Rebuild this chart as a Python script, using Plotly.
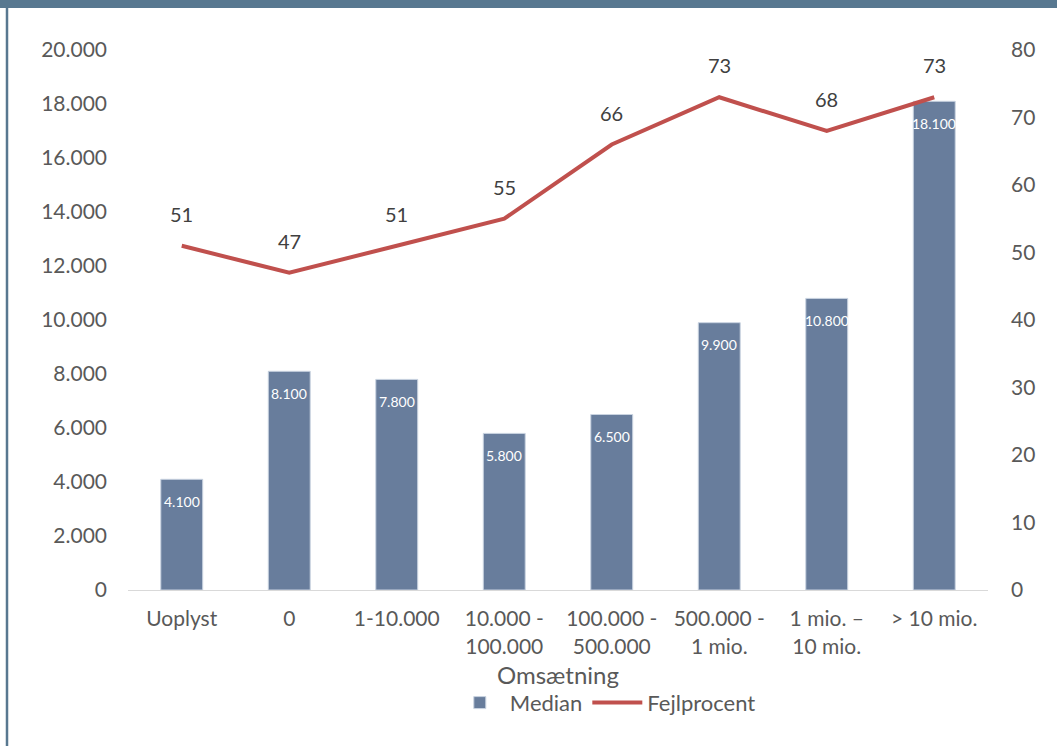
import plotly.graph_objects as go

categories = ["Uoplyst", "0", "1-10.000", "10.000 -<br>100.000", "100.000 -<br>500.000",
              "500.000 -<br>1 mio.", "1 mio. –<br>10 mio.", "> 10 mio."]
median = [4100, 8100, 7800, 5800, 6500, 9900, 10800, 18100]
fejlprocent = [51, 47, 51, 55, 66, 73, 68, 73]
left_ticks = [0, 2000, 4000, 6000, 8000, 10000, 12000, 14000, 16000, 18000, 20000]
right_ticks = [0, 10, 20, 30, 40, 50, 60, 70, 80]

def dk(v):
    return f"{v:,}".replace(",", ".")

FONT = "Lato"
GREY = "#595959"

fig = go.Figure()
fig.add_trace(go.Bar(
    x=categories, y=median, name="Median",
    marker=dict(color="#687D9C", line=dict(color="#c9d3e0", width=1)),
    width=0.39,
))
fig.add_trace(go.Scatter(
    x=categories, y=fejlprocent, name="Fejlprocent", yaxis="y2",
    mode="lines", line=dict(color="#C0504D", width=4),
))
for i, v in enumerate(median):
    fig.add_annotation(x=i, y=v, xref="x", yref="y", text=dk(v), showarrow=False,
                       yshift=-22, font=dict(size=14, color="white", family=FONT))
for i, v in enumerate(fejlprocent):
    fig.add_annotation(x=i, y=v, xref="x", yref="y2", text=str(v), showarrow=False,
                       yshift=32, font=dict(size=20, color="#404040", family=FONT))

PH = 746 - 50 - 156  # plot height in px
top = 1 + 50 / PH
fig.add_shape(type="rect", xref="paper", yref="paper", x0=-0.2, x1=1.2,
              y0=top - 8 / PH, y1=top + 0.01, fillcolor="#587890", line_width=0, layer="below")
fig.add_shape(type="line", xref="paper", yref="paper", x0=-121 / 860, x1=-121 / 860,
              y0=-1, y1=top, line=dict(color="#587890", width=2.5))

fig.update_layout(
    width=1057, height=746,
    margin=dict(l=128, r=69, t=50, b=156),
    paper_bgcolor="white", plot_bgcolor="white",
    font=dict(family=FONT, color=GREY, size=20),
    xaxis=dict(type="category", showgrid=False, showline=True, linecolor="#d9d9d9", linewidth=1,
               ticks="", tickfont=dict(size=21, color=GREY), ticklabelstandoff=10,
               title=dict(text="Omsætning", font=dict(size=24, color=GREY), standoff=10)),
    yaxis=dict(range=[0, 20000], tickvals=left_ticks, ticktext=[dk(v) for v in left_ticks],
               showgrid=False, zeroline=False, showline=False, ticks="",
               ticklabelstandoff=20, tickfont=dict(size=21, color=GREY)),
    yaxis2=dict(range=[0, 80], tickvals=right_ticks, overlaying="y", side="right",
                showgrid=False, zeroline=False, showline=False, ticks="",
                ticklabelstandoff=22, tickfont=dict(size=21, color=GREY)),
    legend=dict(orientation="h", x=0.555, xanchor="center", y=-0.17, yanchor="top",
                font=dict(size=22, color=GREY), traceorder="normal", itemwidth=50),
    showlegend=True,
)

fig.write_html("out.html", config={"displayModeBar": False},
               post_script="document.body.style.margin='0px';")
